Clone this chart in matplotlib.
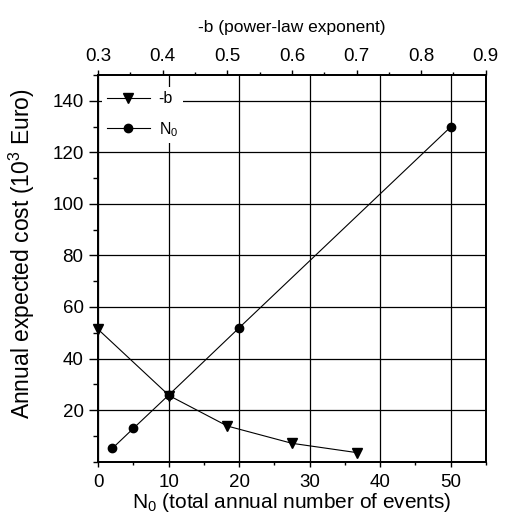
import matplotlib
matplotlib.use('Agg')
import matplotlib.pyplot as plt
from matplotlib.ticker import MultipleLocator

plt.rcParams['font.family'] = ['Liberation Sans', 'DejaVu Sans']
plt.rcParams['mathtext.default'] = 'regular'

# cost vs. total annual number of events (bottom axis)
n0 = [2, 5, 10, 20, 50]
cost_n0 = [5.1, 12.9, 25.8, 51.9, 129.8]

# cost vs. power-law exponent (top axis)
neg_b = [0.3, 0.41, 0.5, 0.6, 0.7]
cost_b = [51.3, 25.6, 13.8, 7.1, 3.5]

fig = plt.figure(figsize=(5.06, 5.21), dpi=100)
ax = fig.add_axes([0.194, 0.114, 0.766, 0.742])
ax2 = ax.twiny()

ax.set_xlim(0, 55)
ax.set_ylim(0, 150)
ax2.set_xlim(0.3, 0.9)

ln_n0, = ax.plot(n0, cost_n0, color='black', lw=0.8, marker='o', ms=6,
                 label='N$_0$', clip_on=False, zorder=3)
ln_b, = ax2.plot(neg_b, cost_b, color='black', lw=0.8, marker='v', ms=7,
                 label='-b', clip_on=False, zorder=3)

ax.xaxis.set_major_locator(MultipleLocator(10))
ax.xaxis.set_minor_locator(MultipleLocator(5))
ax.set_yticks([20, 40, 60, 80, 100, 120, 140])
ax.yaxis.set_minor_locator(MultipleLocator(10))
ax2.set_xticks([0.3, 0.4, 0.5, 0.6, 0.7, 0.8, 0.9])
ax2.set_xticklabels(['0.3', '0.4', '0.5', '0.6', '0.7', '0.8', '0.9'])
ax2.xaxis.set_minor_locator(MultipleLocator(0.05))

ax.grid(True, which='major', color='black', lw=0.9)
ax.set_axisbelow(True)

for a in (ax, ax2):
    a.tick_params(which='both', direction='out', width=1, labelsize=13.5)
    for s in a.spines.values():
        s.set_linewidth(1.3)
ax.tick_params(axis='y', which='both', right=False)
ax.tick_params(axis='y', which='major', length=6.5, pad=4)
ax.tick_params(axis='y', which='minor', length=3.5)
ax.tick_params(axis='x', which='major', length=3.6, pad=5)
ax.tick_params(axis='x', which='minor', length=2.2)
ax2.tick_params(axis='x', which='major', length=3.6, pad=3.5)
ax2.tick_params(axis='x', which='minor', length=2.2)

ax.set_xlabel('N$_0$ (total annual number of events)', fontsize=15)
ax.xaxis.set_label_coords(0.5, -0.077)
ax.set_ylabel('Annual expected cost (10$^3$ Euro)', fontsize=16.5)
ax.yaxis.set_label_coords(-0.158, 0.538)
ax2.set_xlabel('-b (power-law exponent)', fontsize=12.5)
ax2.xaxis.set_label_coords(0.5, 1.111)

leg = ax2.legend([ln_b, ln_n0], ['-b', 'N$_0$'], loc='upper left',
                 bbox_to_anchor=(0.01, 0.97), borderaxespad=0, fontsize=11.5,
                 frameon=True, fancybox=False, framealpha=1, edgecolor='none',
                 handlelength=2.7, handletextpad=0.55, labelspacing=0.85,
                 numpoints=1, borderpad=0.3)

fig.savefig('out.png', dpi=100)
